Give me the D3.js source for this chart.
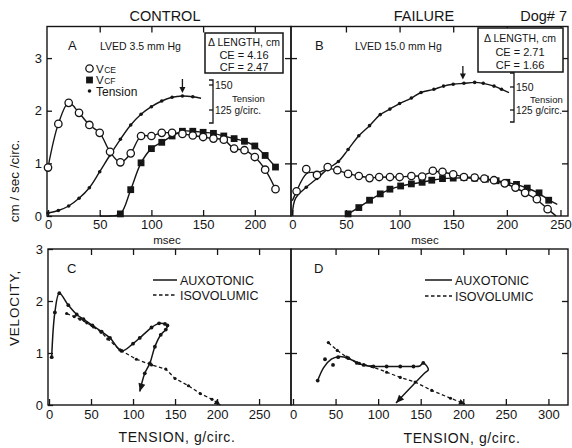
<!DOCTYPE html>
<html><head><meta charset="utf-8">
<script src="https://cdn.jsdelivr.net/npm/d3@7"></script>
<style>
body{margin:0;background:#fff}
text{font-family:"Liberation Sans",Arial,sans-serif;fill:#151515}
</style></head>
<body><svg id="c" width="572" height="448"></svg>
<script>
// ---------- DATA ----------
// Panel A (Control) : time course, msec
const aTime = [0,10,20,30,40,50,60,70,80,90,100,110,120,130,140,150,160,170,180,190,200,210,220];
const aVCE  = [0.92,1.75,2.15,1.96,1.73,1.58,1.22,1.02,1.19,1.52,1.52,1.58,1.58,1.56,1.53,1.50,1.47,1.45,1.28,1.25,1.12,0.88,0.51];
const aVcfTime = [50,60,70,80,90,100,110,120,130,140,150,160,170,180,190,200,210,220];
const aVCF  = [0,0,0.04,0.50,1.01,1.28,1.40,1.52,1.61,1.61,1.59,1.57,1.52,1.47,1.42,1.33,1.15,0.93];
const aTensTime = [0,10,20,30,40,50,60,70,80,90,100,110,120,130,140,148];
const aTension  = [22,24.5,29,36.7,47.3,63.3,80,95.7,110,120.7,128.3,134,137.7,139,138.3,136.7];
const aPeakTime = 130;
// Panel B (Failure)
const bVceTime = [0,4,13,23,33,42,52,62,72,81,91,100,111,121,131,140,150,160,170,179,188,198,208,217,228,238,246];
const bVCE     = [0.29,0.47,0.89,0.78,0.93,0.87,0.80,0.76,0.72,0.74,0.74,0.74,0.76,0.75,0.86,0.84,0.79,0.74,0.73,0.71,0.68,0.62,0.54,0.44,0.32,0.13,0];
const bVcfTime = [52,62,72,82,91,101,111,121,130,140,150,160,170,180,190,200,209,219,230,239,247];
const bVCF     = [0.04,0.16,0.30,0.42,0.51,0.57,0.61,0.64,0.68,0.71,0.72,0.73,0.72,0.70,0.67,0.64,0.60,0.53,0.44,0.30,0.22];
const bTensTime = [0,3,13,23,33,43,52,62,72,82,91,100,111,120,132,141,150,160,170,178,188,195,202];
const bTension  = [11,29,41,50.5,61,69,82,97,108,120,126,132,138,144,147.5,151,153,154,155,154,151,147.5,144];
const bPeakTime = 159;
// Panel C (Control) : velocity vs tension
const cAuxT = [3.2,7,12.3,23,33,41,51.6,62.7,72.6,86.5,100,108,122,131,138,141,139,133,126,120,114,108];
const cAuxV = [0.92,1.78,2.15,1.92,1.74,1.65,1.53,1.41,1.29,1.04,1.18,1.29,1.49,1.57,1.56,1.53,1.45,1.35,1.12,0.80,0.61,0.26];
const cIsoT = [21,30,37,45,53,62,70,84.5,104,122,139,150,166,180,194,204];
const cIsoV = [1.76,1.70,1.65,1.58,1.50,1.40,1.27,1.06,0.88,0.77,0.69,0.51,0.37,0.22,0.11,0];
// Panel D (Failure)
const dAuxFitT = [29,36,45,53,65,75,85,95,110,126,141,149,153,159,155,121];
const dAuxFitV = [0.47,0.72,0.88,0.93,0.90,0.81,0.76,0.74,0.74,0.74,0.74,0.75,0.81,0.68,0.62,0.04];
const dAuxPtT = [29,37.6,47,53,65,75,83,94.5,110,126,141.5,153];
const dAuxPtV = [0.47,0.88,0.77,0.92,0.90,0.81,0.77,0.74,0.74,0.74,0.74,0.81];
const dIsoT = [41.5,52,63,78,92.5,110,126,143.5,163,185,202];
const dIsoV = [1.20,1.05,0.92,0.80,0.74,0.63,0.53,0.44,0.28,0.13,0.02];
// ticks and labels
const topXTicksA = [0,50,100,150,200];
const topXTicksB = [0,50,100,150,200,250];
const botXTicksC = [0,50,100,150,200,250];
const botXTicksD = [0,50,100,150,200,250,300];
const vTicksTop = [0,1,2,3];
const vTicksBot = [0,1,2,3];
const bracketTicks = [150,125];

// ---------- SCALES ----------
const ink = "#151515";
const svg = d3.select("#c");
const xA = d3.scaleLinear([0,235],[48,291]);
const xB = d3.scaleLinear([0,257],[292.3,568]);
const yTop = d3.scaleLinear([0,3.6],[216,26.5]);
const tA = d3.scaleLinear([0,150],[235,85]);
const tB = d3.scaleLinear([0,150],[225,87]);
const xC = d3.scaleLinear([0,288],[49,291]);
const xD = d3.scaleLinear([0,323],[293,568]);
const yBot = d3.scaleLinear([0,3],[405,249]);
const fmt = d3.format("d");

// ---------- HELPERS ----------
function frame(x0,y0,x1,y1){
  svg.append("rect").attr("x",x0).attr("y",y0).attr("width",x1-x0).attr("height",y1-y0)
    .attr("fill","none").attr("stroke",ink).attr("stroke-width",1.4);
}
function axis(gen,tx,ty){
  const g = svg.append("g").attr("transform",`translate(${tx},${ty})`).call(gen);
  g.select(".domain").remove();
  g.selectAll("line").attr("stroke",ink).attr("stroke-width",1.3);
  g.selectAll("text").attr("font-size",13).attr("fill",ink)
    .style("font-family","'Liberation Sans',Arial,sans-serif");
  return g;
}
function pts(xs,ys,sx,sy){ return xs.map((v,i)=>[sx(v),sy(ys[i])]); }
function line(p,curve,dash,w){
  svg.append("path").attr("d",d3.line().curve(curve||d3.curveLinear)(p))
    .attr("fill","none").attr("stroke",ink).attr("stroke-width",w||1.4)
    .attr("stroke-dasharray",dash||null);
}
function circles(p){ svg.append("g").selectAll("circle").data(p).join("circle")
  .attr("cx",d=>d[0]).attr("cy",d=>d[1]).attr("r",3.7)
  .attr("fill","#fff").attr("stroke",ink).attr("stroke-width",1.3); }
function squares(p){ svg.append("g").selectAll("rect").data(p).join("rect")
  .attr("x",d=>d[0]-3.4).attr("y",d=>d[1]-3.4).attr("width",6.8).attr("height",6.8).attr("fill",ink); }
function dots(p,r){ svg.append("g").selectAll("circle").data(p).join("circle")
  .attr("cx",d=>d[0]).attr("cy",d=>d[1]).attr("r",r||1.8).attr("fill",ink); }
function arrowHead(p0,p1,len,wid){
  const dx=p1[0]-p0[0], dy=p1[1]-p0[1], L=Math.hypot(dx,dy), ux=dx/L, uy=dy/L;
  const bx=p1[0]-ux*len, by=p1[1]-uy*len;
  svg.append("path").attr("d",`M${p1[0]},${p1[1]}L${bx-uy*wid},${by+ux*wid}L${bx+uy*wid},${by-ux*wid}Z`).attr("fill",ink);
}
function text(s,x,y,size,anchor,extra){
  const t=svg.append("text").attr("x",x).attr("y",y).attr("font-size",size)
    .attr("text-anchor",anchor||"start").text(s);
  if(extra) extra(t);
  return t;
}

// ---------- FRAMES & AXES ----------
frame(47,26.5,291,216); frame(291,26.5,568,216);
frame(48,249,291,405);  frame(291,249,568,405);

// panel A
axis(d3.axisBottom(xA).tickValues(topXTicksA).tickFormat(fmt).tickSizeInner(-6).tickSizeOuter(0).tickPadding(4),0,216);
axis(d3.axisTop(xA).tickValues(topXTicksA.slice(1)).tickSizeInner(-6).tickSizeOuter(0).tickFormat(""),0,26.5);
axis(d3.axisLeft(yTop).tickValues(vTicksTop).tickFormat(fmt).tickSizeInner(-5).tickSizeOuter(0).tickPadding(5),47,0);
axis(d3.axisLeft(yTop).tickValues(vTicksTop.slice(1)).tickSizeInner(12).tickSizeOuter(0).tickFormat(""),297,0);
// panel B
axis(d3.axisBottom(xB).tickValues(topXTicksB).tickFormat(fmt).tickSizeInner(-6).tickSizeOuter(0).tickPadding(4),0,216);
axis(d3.axisTop(xB).tickValues(topXTicksB.slice(1)).tickSizeInner(-6).tickSizeOuter(0).tickFormat(""),0,26.5);
axis(d3.axisRight(yTop).tickValues(vTicksTop.slice(1)).tickSizeInner(-6).tickSizeOuter(0).tickFormat(""),568,0);
// panel C
axis(d3.axisBottom(xC).tickValues(botXTicksC).tickFormat(fmt).tickSizeInner(-6).tickSizeOuter(0).tickPadding(5),0,405);
axis(d3.axisTop(xC).tickValues(botXTicksC.slice(1)).tickSizeInner(-6).tickSizeOuter(0).tickFormat(""),0,249);
axis(d3.axisLeft(yBot).tickValues(vTicksBot).tickFormat(fmt).tickSizeInner(-5).tickSizeOuter(0).tickPadding(5),48,0);
axis(d3.axisLeft(yBot).tickValues([1,2]).tickSizeInner(12).tickSizeOuter(0).tickFormat(""),297,0);
// panel D
axis(d3.axisBottom(xD).tickValues(botXTicksD).tickFormat(fmt).tickSizeInner(-6).tickSizeOuter(0).tickPadding(5),0,405);
axis(d3.axisTop(xD).tickValues(botXTicksD.slice(1)).tickSizeInner(-6).tickSizeOuter(0).tickFormat(""),0,249);
axis(d3.axisRight(yBot).tickValues([1,2]).tickSizeInner(-6).tickSizeOuter(0).tickFormat(""),568,0);

// ---------- PANEL A MARKS ----------
const aT = pts(aTensTime,aTension,xA,tA);
line(aT,d3.curveCatmullRom);
dots(aT.slice(0,-1));
const aE = pts(aTime,aVCE,xA,yTop);
line(aE,d3.curveCatmullRom);
const aF = pts(aVcfTime,aVCF,xA,yTop);
line(aF,d3.curveCatmullRom);
squares(aF.slice(2));
circles(aE);
{ const x=xA(aPeakTime); svg.append("line").attr("x1",x).attr("x2",x).attr("y1",79).attr("y2",88).attr("stroke",ink).attr("stroke-width",1.3);
  arrowHead([x,79],[x,tA(138)-4],6,3); }

// ---------- PANEL B MARKS ----------
const bT = pts(bTensTime,bTension,xB,tB);
line(bT,d3.curveCatmullRom);
dots(bT.slice(2,-1));
const bE = pts(bVceTime,bVCE,xB,yTop);
line(bE,d3.curveBasis);
const bF = pts(bVcfTime,bVCF,xB,yTop);
line(bF,d3.curveBasis);
squares(bF.slice(0,-1));
circles(bE.slice(1,-1));
{ const x=xB(bPeakTime); svg.append("line").attr("x1",x).attr("x2",x).attr("y1",66).attr("y2",76).attr("stroke",ink).attr("stroke-width",1.3);
  arrowHead([x,66],[x,tB(155)-3],6,3); }

// ---------- PANEL C MARKS ----------
const cA = pts(cAuxT,cAuxV,xC,yBot);
line(cA,d3.curveCatmullRom,null,1.5);
dots(cA.slice(0,-1),1.9);
arrowHead(cA[cA.length-2],cA[cA.length-1],8,3.5);
const cI = pts(cIsoT,cIsoV,xC,yBot);
line(cI,d3.curveLinear,"3.5,2.5",1.3);
dots(cI.slice(0,-1),1.6);
arrowHead(cI[cI.length-2],cI[cI.length-1],6,3);

// ---------- PANEL D MARKS ----------
const dA = pts(dAuxFitT,dAuxFitV,xD,yBot);
line(dA,d3.curveCatmullRom,null,1.5);
arrowHead(dA[dA.length-2],dA[dA.length-1],8,3.5);
dots(pts(dAuxPtT,dAuxPtV,xD,yBot),1.9);
const dI = pts(dIsoT,dIsoV,xD,yBot);
line(dI,d3.curveLinear,"3.5,2.5",1.3);
dots(dI.slice(0,-1),1.6);
arrowHead(dI[dI.length-2],dI[dI.length-1],6,3);

// ---------- BRACKETS ----------
function bracket(x,yTopPx,yBotPx,sc,lx){
  svg.append("path").attr("d",`M${x-4},${yTopPx}H${x}V${yBotPx}H${x-4}`).attr("fill","none").attr("stroke",ink).attr("stroke-width",1.3);
  bracketTicks.forEach(v=>svg.append("line").attr("x1",x-4).attr("x2",x).attr("y1",sc(v)).attr("y2",sc(v)).attr("stroke",ink).attr("stroke-width",1.3));
  text("150",x+2,sc(150)+4,10.5);
  text("Tension",lx,sc(137.5)+4,9.5);
  text("125 g/circ.",x+2,sc(125)+4,10);
}
bracket(213,80,123,tA,232);
bracket(514,73,122,tB,530);

// ---------- TEXT ----------
text("CONTROL",165,21,14.5,"middle");
text("FAILURE",424,21,14.5,"middle");
text("Dog# 7",567,21,14.5,"end");
text("A",68,50,13);
text("LVED  3.5 mm Hg",100,50,10.5);
text("B",315,50,13);
text("LVED  15.0 mm Hg",355,50,10.5);
text("C",67,273,13);
text("D",314,273,13);
// boxes
svg.append("rect").attr("x",205).attr("y",33).attr("width",78).attr("height",40).attr("fill","#fff").attr("stroke",ink).attr("stroke-width",1.5);
text("Δ LENGTH, cm",244,46,10.5,"middle");
text("CE = 4.16",244,59,11,"middle");
text("CF = 2.47",244,71,11,"middle");
svg.append("rect").attr("x",478).attr("y",28).attr("width",85).attr("height",44).attr("fill","#fff").attr("stroke",ink).attr("stroke-width",1.5);
text("Δ LENGTH, cm",520,42,10.5,"middle");
text("CE = 2.71",520,56,11,"middle");
text("CF = 1.66",520,69,11,"middle");
// legend A
circles([[89.5,68.5]]);
squares([[89.5,80]]);
dots([[89.5,91]],1.8);
function vsub(x,y,sub){
  const t=text("V",x,y,11.5);
  t.append("tspan").attr("font-size",8.5).attr("dx",0.5).text(sub);
}
vsub(96,72.5,"CE");
vsub(96,84,"CF");
text("Tension",96,95.5,12);
// legends C, D
function legend(x0,x1,y,lbl,dash){
  svg.append("line").attr("x1",x0).attr("x2",x1).attr("y1",y).attr("y2",y).attr("stroke",ink).attr("stroke-width",1.5).attr("stroke-dasharray",dash||null);
  text(lbl,x1+3,y+5,12.5);
}
legend(153,177,280,"AUXOTONIC");
legend(153,177,295,"ISOVOLUMIC","3.5,2.5");
legend(425,452,280,"AUXOTONIC");
legend(425,452,296,"ISOVOLUMIC","3.5,2.5");
// axis titles
text("msec",167,243.5,11.5,"middle");
text("msec",425,243.5,11.5,"middle");
text("TENSION,  g/circ.",177,442,14,"middle",t=>t.attr("letter-spacing",0.6));
text("TENSION,  g/circ.",462,443,14,"middle",t=>t.attr("letter-spacing",0.6));
text("VELOCITY,",19,308,13.5,"middle",t=>t.attr("transform","rotate(-90,19,308)").attr("letter-spacing",0.8));
text("cm / sec /circ.",19,181,13.5,"middle",t=>t.attr("transform","rotate(-90,19,181)"));
</script>
</body></html>
